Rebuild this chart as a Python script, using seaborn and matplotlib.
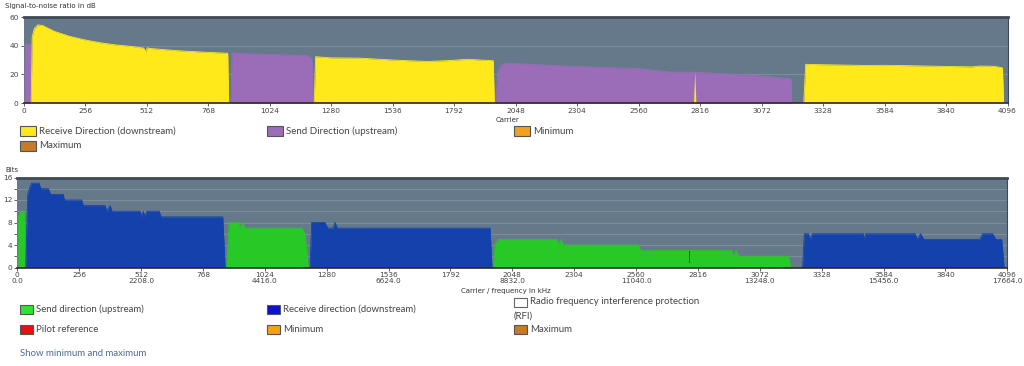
import matplotlib
matplotlib.use('Agg')
import matplotlib.pyplot as plt
from matplotlib.patches import Rectangle
import seaborn as sns

sns.set_style('white')
plt.rcParams['font.family'] = ['Lato', 'DejaVu Sans']

# ---- data: signal-to-noise ratio (carrier, dB) ----
snr_us1_x = [6, 8, 29, 31]
snr_us1_y = [0, 41, 41, 0]
snr_ds1_x = [32, 36, 45, 60, 80, 128, 192, 256, 320, 384, 448, 500, 510, 515, 530, 640, 768, 850, 854]
snr_ds1_y = [0, 46, 52, 54.5, 54, 50, 46.5, 44, 42, 40.5, 39.5, 38.3, 35.5, 38.5, 38, 36.5, 35.3, 34.7, 0]
snr_us2_x = [864, 868, 900, 1000, 1100, 1180, 1200, 1206]
snr_us2_y = [0, 35, 34.5, 34, 33.5, 33, 31, 0]
snr_ds2_x = [1210, 1216, 1280, 1400, 1536, 1600, 1680, 1760, 1850, 1900, 1955, 1960]
snr_ds2_y = [0, 32.3, 31.5, 31.3, 30, 29.5, 29, 29.5, 30.5, 30, 29.5, 0]
snr_us3_x = [1965, 1975, 1990, 2010, 2100, 2300, 2560, 2700, 2790, 2900, 3072, 3190, 3195, 3198]
snr_us3_y = [0, 22, 26.5, 27.8, 27, 25.5, 24, 21.5, 21.5, 20.5, 18.8, 17, 16.5, 0]
snr_spike_x = [2789, 2794, 2799]
snr_spike_y = [0, 22, 0]
snr_ds3_x = [3248, 3256, 3300, 3400, 3500, 3584, 3700, 3840, 3950, 3980, 4040, 4060, 4075, 4080]
snr_ds3_y = [0, 27, 26.8, 26.5, 26.2, 26.3, 26, 25.5, 25.2, 25.8, 25.6, 25, 24.5, 0]

# ---- data: bit allocation (carrier, bits) ----
bits_us1_x = [3, 5, 14, 30, 32]
bits_us1_y = [0, 9, 10, 10, 0]
bits_ds1_x = [35, 43, 50, 59, 90, 97, 128, 138, 190, 195, 266, 273, 363, 370, 384, 392, 508, 515,
              521, 528, 535, 587, 595, 850, 860]
bits_ds1_y = [0, 13, 14, 15, 15, 14, 14, 13, 13, 12, 12, 11, 11, 10, 11, 10, 10, 9,
              10, 9, 10, 10, 9, 9, 0]
bits_us2_x = [866, 877, 914, 921, 932, 942, 1177, 1190, 1204]
bits_us2_y = [0, 8, 8, 7, 8, 7, 7, 6, 0]
bits_ds2_x = [1211, 1218, 1273, 1284, 1307, 1314, 1324, 1956, 1964]
bits_ds2_y = [0, 8, 8, 7, 7, 8, 7, 7, 0]
bits_us3_x = [1969, 1976, 1990, 2232, 2240, 2249, 2259, 2569, 2579, 2956, 2962, 2974, 2983, 3190, 3200]
bits_us3_y = [0, 4, 5, 5, 4, 5, 4, 4, 3, 3, 2, 3, 2, 2, 0]
bits_spike_x = [2781, 2785]
bits_spike_lo = [0.8, 0.8]
bits_spike_hi = [3, 3]
bits_ds3_x = [3249, 3256, 3273, 3280, 3290, 3500, 3504, 3510, 3714, 3724, 3737, 3751, 3983, 3994,
              4035, 4049, 4073, 4083]
bits_ds3_y = [0, 6, 6, 5, 6, 6, 5, 6, 6, 5, 6, 5, 5, 6, 6, 5, 5, 0]

carrier_ticks = list(range(0, 4097, 256))
freq_labels = {0: '0.0', 512: '2208.0', 1024: '4416.0', 1536: '6624.0', 2048: '8832.0',
               2560: '11040.0', 3072: '13248.0', 3584: '15456.0', 4096: '17664.0'}

top_legend = [('Receive Direction (downstream)', '#ffe91a', '#555555'),
              ('Send Direction (upstream)', '#9b6db8', '#555555'),
              ('Minimum', '#f5a01a', '#555555'),
              ('Maximum', '#c87a2a', '#555555')]
bottom_legend = [('Send direction (upstream)', '#27e827', '#555555'),
                 ('Receive direction (downstream)', '#0a10d8', '#555555'),
                 ('Radio frequency interference protection', '#ffffff', '#666666'),
                 ('Pilot reference', '#e81010', '#555555'),
                 ('Minimum', '#f5a01a', '#555555'),
                 ('Maximum', '#c87a2a', '#555555')]

YELLOW = '#ffe91a'
PURPLE = '#9b6db8'
GREEN = '#27c927'
BLUE = '#1442ad'
BG = '#66798b'
GRID = '#7c8c9b'

W, H = 1024, 366
fig = plt.figure(figsize=(W / 100, H / 100), dpi=100)


def px_axes(x0, y0, x1, y1):
    return fig.add_axes([x0 / W, 1 - y1 / H, (x1 - x0) / W, (y1 - y0) / H])


def area(ax, xs, ys, color):
    ax.fill_between(xs, 0, ys, color=color, linewidth=0, zorder=3)
    sns.lineplot(x=xs, y=ys, ax=ax, color=color, linewidth=0.6, sort=False, zorder=3)


def style_axes(ax, ymax, ystep, gridstep):
    ax.set_facecolor(BG)
    ax.set_xlim(0, 4096)
    ax.set_ylim(0, ymax)
    ax.set_yticks(range(0, ymax + 1, ystep))
    for g in range(gridstep, ymax, gridstep):
        ax.axhline(g, color=GRID, linewidth=0.8, zorder=1)
    ax.spines['left'].set_visible(False)
    ax.spines['top'].set_color('#404a55')
    ax.spines['top'].set_linewidth(2)
    ax.spines['right'].set_color('#404a55')
    ax.spines['right'].set_linewidth(0.8)
    ax.spines['bottom'].set_color('#2a2a22')
    ax.spines['bottom'].set_linewidth(1.2)
    ax.spines['bottom'].set_zorder(5)
    ax.tick_params(axis='both', labelsize=5.3, colors='#444444', length=2.5, width=0.6,
                   direction='out', pad=1, labelcolor='#444444')
    ax.tick_params(axis='both', which='both', bottom=True, left=True)


# ---- top chart: SNR ----
ax1 = px_axes(23.5, 17, 1007.5, 103)
style_axes(ax1, 60, 20, 20)
area(ax1, snr_us1_x, snr_us1_y, PURPLE)
area(ax1, snr_ds1_x, snr_ds1_y, YELLOW)
area(ax1, snr_us2_x, snr_us2_y, PURPLE)
area(ax1, snr_ds2_x, snr_ds2_y, YELLOW)
area(ax1, snr_us3_x, snr_us3_y, PURPLE)
ax1.fill_between(snr_spike_x, 0, snr_spike_y, color=YELLOW, linewidth=0, zorder=4)
area(ax1, snr_ds3_x, snr_ds3_y, YELLOW)
ax1.set_xticks(carrier_ticks)
ax1.set_xticklabels([str(c) for c in carrier_ticks], family='DejaVu Sans')

# ---- bottom chart: bits ----
ax2 = px_axes(17.3, 177.5, 1007.3, 267.5)
style_axes(ax2, 16, 4, 2)
ax2.set_yticks([2, 6, 10, 14], minor=True)
ax2.tick_params(axis='y', which='minor', length=2, width=0.6, colors='#444444')
area(ax2, bits_us1_x, bits_us1_y, GREEN)
area(ax2, bits_ds1_x, bits_ds1_y, BLUE)
area(ax2, bits_us2_x, bits_us2_y, GREEN)
area(ax2, bits_ds2_x, bits_ds2_y, BLUE)
area(ax2, bits_us3_x, bits_us3_y, GREEN)
ax2.fill_between(bits_spike_x, bits_spike_lo, bits_spike_hi, color=BLUE, linewidth=0, zorder=4)
area(ax2, bits_ds3_x, bits_ds3_y, BLUE)
ax2.set_xticks(carrier_ticks)
ax2.set_xticklabels([str(c) + ('\n' + freq_labels[c] if c in freq_labels else '')
                     for c in carrier_ticks], family='DejaVu Sans', linespacing=0.95)

for ax in (ax1, ax2):
    for lab in ax.get_yticklabels():
        lab.set_family('DejaVu Sans')


# ---- axis titles ----
def ftext(x, y, s, **kw):
    fig.text(x / W, 1 - y / H, s, **kw)


ftext(5, 6, 'Signal-to-noise ratio in dB', fontsize=5, color='#333333', va='center',
      family='DejaVu Sans')
ftext(507, 119.5, 'Carrier', fontsize=5, color='#333333', va='center', ha='center',
      family='DejaVu Sans')
ftext(5, 170, 'Bits', fontsize=5, color='#333333', va='center', family='DejaVu Sans')
ftext(506, 291, 'Carrier / frequency in kHz', fontsize=5, color='#333333', va='center',
      ha='center', family='DejaVu Sans')


# ---- legends ----
def legend_item(x, y, label, face, edge, bw=15, bh=10, fs=6.9, gap=3):
    fig.add_artist(Rectangle((x / W, 1 - (y + bh / 2) / H), bw / W, bh / H,
                             transform=fig.transFigure, facecolor=face, edgecolor=edge,
                             linewidth=0.8))
    ftext(x + bw + gap, y, label, fontsize=fs, color='#444444', va='center')


cols = [20, 267, 514]
legend_item(cols[0], 131, top_legend[0][0], top_legend[0][1], top_legend[0][2], bw=16, bh=10, fs=7.0)
legend_item(cols[1], 131, top_legend[1][0], top_legend[1][1], top_legend[1][2], bw=16, bh=10, fs=7.0)
legend_item(cols[2], 131, top_legend[2][0], top_legend[2][1], top_legend[2][2], bw=16, bh=10, fs=7.0)
legend_item(cols[0], 146, top_legend[3][0], top_legend[3][1], top_legend[3][2], bw=16, bh=10, fs=7.0)

legend_item(cols[0], 309, bottom_legend[0][0], bottom_legend[0][1], bottom_legend[0][2], bw=13, bh=9)
legend_item(cols[1], 309, bottom_legend[1][0], bottom_legend[1][1], bottom_legend[1][2], bw=13, bh=9)
legend_item(cols[2], 302, bottom_legend[2][0], bottom_legend[2][1], bottom_legend[2][2], bw=13, bh=9)
ftext(cols[2], 316.5, '(RFI)', fontsize=6.9, color='#444444', va='center')
legend_item(cols[0], 329, bottom_legend[3][0], bottom_legend[3][1], bottom_legend[3][2], bw=13, bh=9)
legend_item(cols[1], 329, bottom_legend[4][0], bottom_legend[4][1], bottom_legend[4][2], bw=13, bh=9)
legend_item(cols[2], 329, bottom_legend[5][0], bottom_legend[5][1], bottom_legend[5][2], bw=13, bh=9)

ftext(20, 353.5, 'Show minimum and maximum', fontsize=6.9, color='#4d6a92', va='center')

fig.savefig('out.png', dpi=100)
